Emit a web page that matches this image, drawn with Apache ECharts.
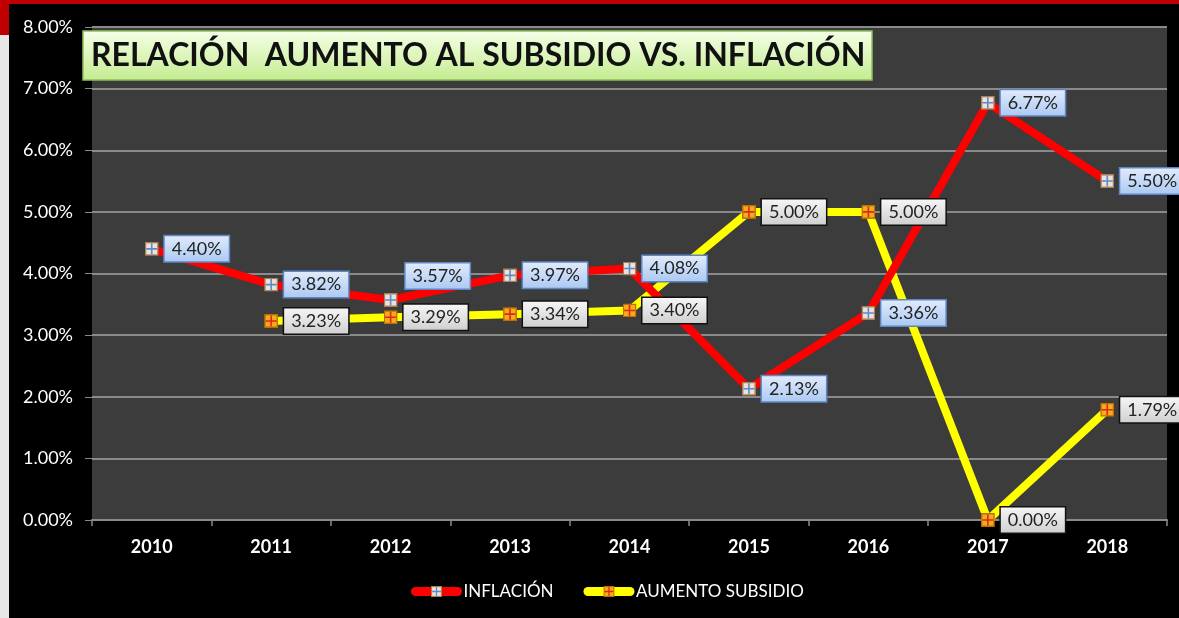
<!DOCTYPE html>
<html>
<head>
<meta charset="utf-8">
<script src="https://cdn.jsdelivr.net/npm/echarts@6/dist/echarts.min.js"></script>
<style>
  html, body { margin: 0; padding: 0; background: #000; }
  #main { width: 1179px; height: 618px; }
</style>
</head>
<body>
<div id="main"></div>
<script>
  var years = ['2010', '2011', '2012', '2013', '2014', '2015', '2016', '2017', '2018'];
  var inflacion = [4.40, 3.82, 3.57, 3.97, 4.08, 2.13, 3.36, 6.77, 5.50];
  var subsidio = [null, 3.23, 3.29, 3.34, 3.40, 5.00, 5.00, 0.00, 1.79];

  function markerIcon(fill, stroke, cross) {
    var svg = "<svg xmlns='http://www.w3.org/2000/svg' width='14' height='14'>" +
      "<rect x='0.75' y='0.75' width='12.5' height='12.5' fill='" + fill + "' stroke='" + stroke + "' stroke-width='1.5'/>" +
      "<path d='M7 1.5V12.5M1.5 7H12.5' stroke='" + cross + "' stroke-width='1.6'/></svg>";
    return 'image://data:image/svg+xml;charset=utf-8,' + encodeURIComponent(svg);
  }

  var vgrad = function (a, b) {
    return { type: 'linear', x: 0, y: 0, x2: 0, y2: 1, colorStops: [{ offset: 0, color: a }, { offset: 1, color: b }] };
  };

  var font = 'Lato, "Open Sans", sans-serif';

  // inflation labels, 2012 pushed up so it clears the yellow one
  var infData = inflacion.map(function (v, i) {
    if (i === 2) return { value: v, label: { offset: [2, -24] } };
    return v;
  });

  function pct(p) { return Number(p.value).toFixed(2) + '%'; }

  var option = {
    backgroundColor: '#000',
    textStyle: { fontFamily: font },
    title: {
      text: 'RELACIÓN  AUMENTO AL SUBSIDIO VS. INFLACIÓN',
      left: 83,
      top: 31,
      padding: [7, 7, 7, 8],
      backgroundColor: vgrad('#f6ffe8', '#c4ec90'),
      borderColor: '#8fbf5f',
      borderWidth: 1.5,
      textStyle: {
        fontFamily: font,
        fontWeight: 'bold',
        fontSize: 32,
        lineHeight: 35,
        color: '#111'
      }
    },
    legend: {
      bottom: 13,
      left: 406,
      itemWidth: 42,
      itemHeight: 14,
      itemGap: 30,
      data: ['INFLACIÓN', 'AUMENTO SUBSIDIO'],
      lineStyle: { width: 9, cap: 'round' },
      textStyle: { color: '#fff', fontSize: 17, fontFamily: font, padding: [0, 0, 0, 1] }
    },
    graphic: [
      { type: 'rect', left: 0, top: 0, shape: { width: 1179, height: 4 }, style: { fill: '#c00000' }, z: 100 },
      { type: 'rect', left: 0, top: 0, shape: { width: 9, height: 35 }, style: { fill: '#c00000' }, z: 100 },
      { type: 'rect', left: 0, top: 35, shape: { width: 9, height: 583 }, style: { fill: '#e6e6e6' }, z: 100 }
    ],
    grid: {
      left: 92,
      right: 12,
      top: 27,
      bottom: 98,
      show: true,
      backgroundColor: '#3c3c3c',
      borderWidth: 0
    },
    xAxis: {
      type: 'category',
      data: years,
      axisLine: { lineStyle: { color: '#8a8a8a', width: 2 } },
      axisTick: { show: true, length: 6, lineStyle: { color: '#8a8a8a', width: 1.5 } },
      axisLabel: { color: '#fff', fontSize: 18, margin: 18, fontWeight: 'bold', fontFamily: font }
    },
    yAxis: {
      type: 'value',
      min: 0,
      max: 8,
      interval: 1,
      axisLine: { show: false },
      axisTick: { show: true, length: 7, lineStyle: { color: '#8a8a8a' } },
      splitLine: { lineStyle: { color: '#8a8a8a', width: 2 } },
      axisLabel: {
        color: '#fff',
        fontSize: 18,
        margin: 19,
        fontFamily: font,
        formatter: function (v) { return v.toFixed(2) + '%'; }
      }
    },
    series: [
      {
        name: 'AUMENTO SUBSIDIO',
        type: 'line',
        data: subsidio,
        symbol: markerIcon('#f4ac1c', '#c07000', '#e02818'),
        symbolSize: 14,
        lineStyle: { color: '#ffff00', width: 8 },
        itemStyle: { color: '#ffff00' },
        label: {
          show: true,
          position: 'right',
          distance: 6,
          color: '#222',
          fontSize: 18,
          fontFamily: font,
          padding: [4, 7, 3, 7],
          backgroundColor: vgrad('#f7f7f7', '#cfcfcf'),
          borderColor: '#111',
          borderWidth: 1.5,
          formatter: pct
        }
      },
      {
        name: 'INFLACIÓN',
        type: 'line',
        data: infData,
        symbol: markerIcon('#efe2d4', '#a8805e', '#5a8ad0'),
        symbolSize: 14,
        lineStyle: { color: '#ff0000', width: 8 },
        itemStyle: { color: '#ff0000' },
        label: {
          show: true,
          position: 'right',
          distance: 6,
          color: '#222',
          fontSize: 18,
          fontFamily: font,
          padding: [4, 7, 3, 7],
          backgroundColor: vgrad('#e2ecfc', '#aac8f2'),
          borderColor: '#5f86c4',
          borderWidth: 1.5,
          formatter: pct
        }
      }
    ]
  };

  var myEcharts = echarts.init(document.getElementById('main'));
  myEcharts.setOption(option);
</script>
</body>
</html>
